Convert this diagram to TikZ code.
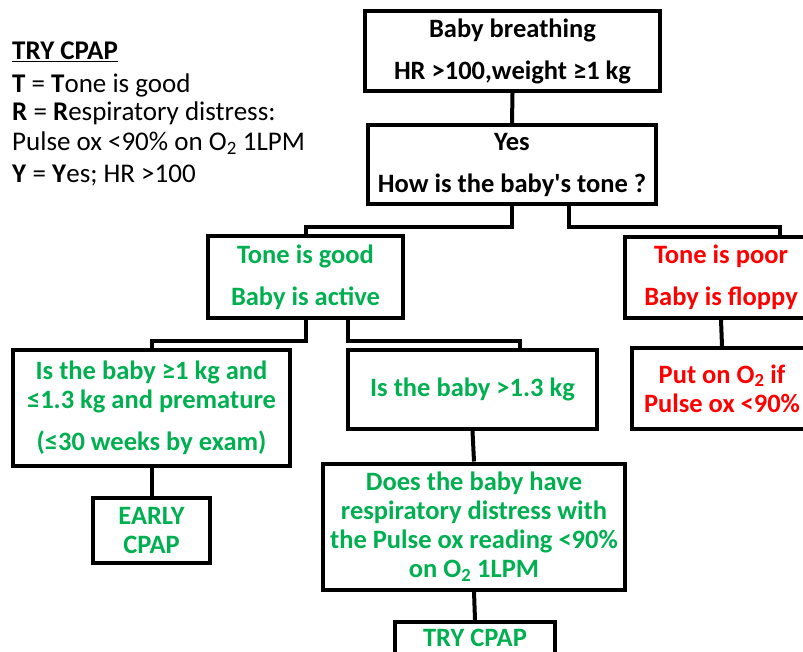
\documentclass[tikz,border=0pt]{standalone}
\usepackage{fontspec}
\setmainfont{Carlito}
\definecolor{okgreen}{RGB}{0,176,80}
\definecolor{alertred}{RGB}{255,0,0}

\begin{document}
\begin{tikzpicture}[x=1pt,y=-1pt,
  flowbox/.style={draw,line width=4pt,inner sep=0pt,align=center,
    font=\fontsize{26.5}{29}\selectfont\bfseries},
  goodbox/.style={flowbox,text=okgreen},
  poorbox/.style={flowbox,text=alertred},
  legend/.style={anchor=base west,inner sep=0pt,font=\fontsize{27}{30}\selectfont},
  conn/.style={line width=4pt}]
\useasboundingbox (0,0) rectangle (803,652);
\clip (0,0) rectangle (803,652);

% legend
\node[legend] (lt1) at (12,60) {\textbf{\underline{TRY CPAP}}};
\node[legend] (lt2) at (12,93) {\textbf{T} = \textbf{T}one is good};
\node[legend] (lt3) at (12,121) {\textbf{R} = \textbf{R}espiratory distress:};
\node[legend] (lt4) at (12,151) {Pulse ox <90\% on O\textsubscript{2} 1LPM};
\node[legend] (lt5) at (12,183) {\textbf{Y} = \textbf{Y}es; HR >100};

% boxes
\node[flowbox,minimum width=295pt,minimum height=80pt] (breath) at (512.5,51)
  {Baby breathing\\[13pt]HR >100,weight ≥1 kg};
\node[flowbox,minimum width=288pt,minimum height=79pt] (tone) at (512,164.5)
  {Yes\\[13pt]How is the baby\textquotesingle s tone ?};
\node[goodbox,minimum width=195pt,minimum height=81pt] (good) at (305.5,277)
  {Tone is good\\[13pt]Baby is active};
\node[poorbox,minimum width=192pt,minimum height=80pt] (poor) at (721,277.5)
  {Tone is poor\\[13pt]Baby is floppy};
\node[goodbox,minimum width=277pt,minimum height=116pt] (small) at (151.5,407.5)
  {Is the baby ≥1 kg and\\≤1.3 kg and premature\\[13pt](≤30 weeks by exam)};
\node[goodbox,minimum width=249pt,minimum height=79pt] (big) at (472.5,389.5)
  {Is the baby >1.3 kg};
\node[poorbox,minimum width=180pt,minimum height=81pt] (oxygen) at (722,388.5)
  {Put on O\textsubscript{2} if\\Pulse ox <90\%};
\node[goodbox,minimum width=117pt,minimum height=65pt] (early) at (151.5,530.5)
  {EARLY\\CPAP};
\node[goodbox,minimum width=302pt,minimum height=126pt] (distress) at (474,526.5)
  {Does the baby have\\respiratory distress with\\the Pulse ox reading <90\%\\on O\textsubscript{2} 1LPM};
\node[goodbox,minimum width=160pt,minimum height=32pt] (trycpap) at (475,638)
  {TRY CPAP};

% connectors
\draw[conn] (breath.south) -- (tone.north);
\draw[conn] (tone.south) -- ++(0,21) -| (good.north);
\draw[conn] ([xshift=57pt]tone.south) -- ++(0,21) -| ([xshift=59pt]poor.north);
\draw[conn] (good.south) -- ++(0,21) -| (small.north);
\draw[conn] ([xshift=42pt]good.south) -- ++(0,21) -| ([xshift=47.5pt]big.north);
\draw[conn] (poor.south) -- (oxygen.north);
\draw[conn] (small.south) -- (early.north);
\draw[conn] (big.south) -- (distress.north);
\draw[conn] (distress.south) -- (trycpap.north);
\end{tikzpicture}
\end{document}
